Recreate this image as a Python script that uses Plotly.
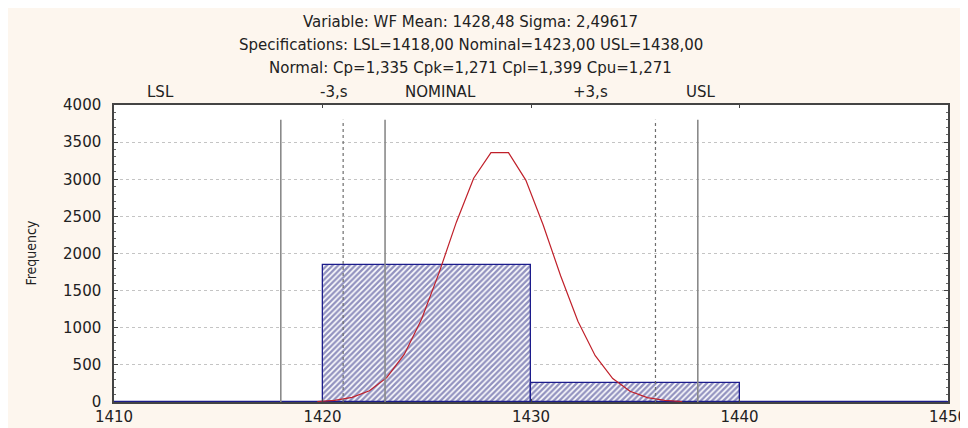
import plotly.graph_objects as go

# Histogram bins
bin_left = [1410, 1420, 1430, 1440]
bin_right = [1420, 1430, 1440, 1450]
bin_counts = [0, 1840, 250, 0]

# Fitted normal curve
curve_x = [1419.75, 1420.58, 1421.42, 1422.25, 1423.08, 1423.92, 1424.75, 1425.58,
           1426.42, 1427.25, 1428.08, 1428.92, 1429.75, 1430.58, 1431.42, 1432.25,
           1433.08, 1433.92, 1434.75, 1435.58, 1436.42, 1437.25]
curve_y = [7, 23, 62, 151, 328, 641, 1114, 1732, 2422, 3013, 3358, 3358, 2989, 2388,
           1700, 1088, 623, 316, 145, 60, 22, 7]

# Specification lines
spec_x = [1418.0, 1420.99, 1423.0, 1435.97, 1438.0]
spec_dash = ["solid", "dot", "solid", "dot", "solid"]
spec_top = 3800

# Top labels (text, x position in data units)
top_labels = ["LSL", "-3,s", "NOMINAL", "+3,s", "USL"]
top_label_x = [1412.25, 1420.55, 1425.68, 1432.83, 1438.15]

title_lines = [
    "Variable: WF Mean: 1428,48 Sigma: 2,49617",
    "Specifications: LSL=1418,00 Nominal=1423,00 USL=1438,00",
    "Normal: Cp=1,335 Cpk=1,271 Cpl=1,399 Cpu=1,271",
]

x_ticks = [1410, 1420, 1430, 1440, 1450]
y_ticks = [0, 500, 1000, 1500, 2000, 2500, 3000, 3500, 4000]

FONT = "DejaVu Sans, Verdana, Arial"
navy = "#1c1c8c"
fig = go.Figure()

centers = [(a + b) / 2 for a, b in zip(bin_left, bin_right)]
widths = [b - a for a, b in zip(bin_left, bin_right)]
fig.add_trace(go.Bar(
    x=centers, y=bin_counts, width=widths,
    marker=dict(color="white", line=dict(color=navy, width=1.3),
                pattern=dict(shape="/", fgcolor="#262680", bgcolor="white",
                             size=4, solidity=0.6)),
    showlegend=False, hoverinfo="skip",
))
# baseline where bins are empty
fig.add_trace(go.Scatter(x=[bin_left[0], bin_right[-1]], y=[0, 0], mode="lines",
                         line=dict(color=navy, width=2), showlegend=False, hoverinfo="skip"))

fig.add_trace(go.Scatter(x=curve_x, y=curve_y, mode="lines",
                         line=dict(color="#c0202a", width=1.2),
                         showlegend=False, hoverinfo="skip"))

for sx, dash in zip(spec_x, spec_dash):
    fig.add_shape(type="line", x0=sx, x1=sx, y0=0, y1=spec_top, xref="x", yref="y",
                  line=dict(color="#6e6e6e" if dash == "dot" else "#8a8a8a",
                            width=1.2 if dash == "dot" else 1.6, dash=dash),
                  layer="above")

for t, lx in zip(top_labels, top_label_x):
    fig.add_annotation(x=lx, y=1.044, xref="x", yref="paper", text=t, showarrow=False,
                       font=dict(size=15, color="#222222", family=FONT),
                       xanchor="center", yanchor="middle")

for t, py in zip(title_lines, [1.279, 1.201, 1.125]):
    fig.add_annotation(x=0.428, y=py, xref="paper", yref="paper", text=t, showarrow=False,
                       font=dict(size=15, color="#222222", family=FONT),
                       xanchor="center", yanchor="middle")

fig.add_annotation(x=-0.1007, y=0.5, xref="paper", yref="paper", text="Frequency",
                   textangle=-90, showarrow=False, xanchor="center", yanchor="middle",
                   font=dict(size=14, color="#222222",
                             family="Liberation Sans Narrow, DejaVu Sans Condensed, Arial"))

# page body has an 8px margin, so the figure is drawn smaller and shifted
fig.update_layout(
    width=960, height=420,
    margin=dict(l=106, r=20, t=97, b=26, autoexpand=False),
    paper_bgcolor="#fdf6ee", plot_bgcolor="white",
    bargap=0,
    font=dict(family=FONT, size=14, color="#222222"),
)
fig.update_xaxes(range=[1410, 1450], tickvals=x_ticks, showgrid=False, zeroline=False,
                 showline=True, linecolor="#444444", linewidth=1.5, mirror="ticks",
                 ticks="inside", ticklen=3, tickcolor="#444444", automargin=False,
                 ticklabelstandoff=0,
                 tickfont=dict(size=15, color="#222222", family=FONT))
fig.update_yaxes(range=[0, 4000], tickvals=y_ticks, showgrid=True, gridcolor="#c4c4c4",
                 griddash="dot", gridwidth=1, zeroline=False,
                 showline=True, linecolor="#444444", linewidth=1.5, mirror="ticks",
                 ticks="inside", ticklen=4, tickcolor="#444444", automargin=False,
                 ticklabelstandoff=8,
                 minor=dict(dtick=100, ticks="inside", ticklen=2, tickcolor="#666666", showgrid=False),
                 tickfont=dict(size=15, color="#222222", family=FONT))

fig.write_html("out.html")
